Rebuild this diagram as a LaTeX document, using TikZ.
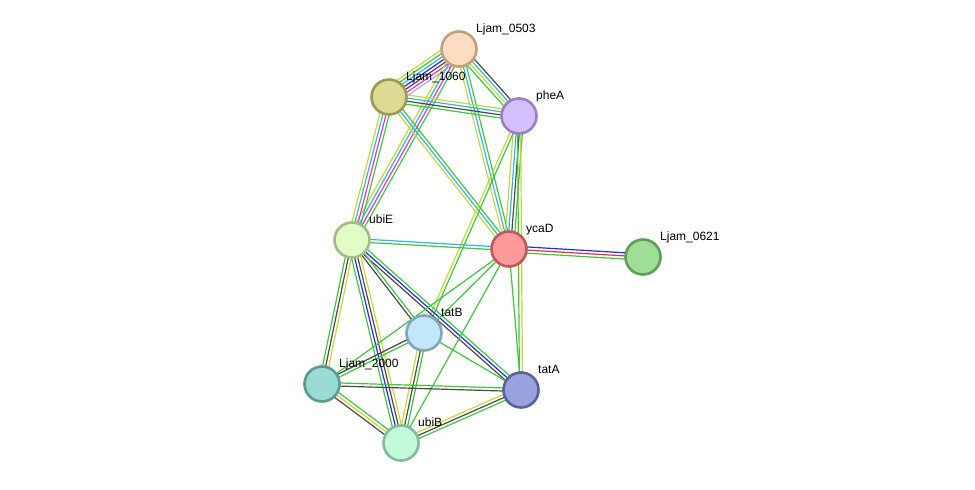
\documentclass[tikz,border=0pt]{standalone}
\usepackage{fontspec}
\setsansfont{Liberation Sans}
\usetikzlibrary{calc, backgrounds}
% colori degli archi
\definecolor{etm}{HTML}{C4D836}
\definecolor{edb}{HTML}{33B5E0}
\definecolor{eex}{HTML}{E033E0}
\definecolor{eco}{HTML}{4A4A4A}
\definecolor{enb}{HTML}{3CC83C}
\definecolor{efu}{HTML}{F03030}
\definecolor{ecc}{HTML}{2828F8}
\definecolor{ehm}{HTML}{A8A8F8}
% colori dei nodi
\definecolor{f0503}{HTML}{FDDCBF}\definecolor{d0503}{HTML}{C0A080}
\definecolor{f1060}{HTML}{DCDA94}\definecolor{d1060}{HTML}{9A9A52}
\definecolor{fpheA}{HTML}{D3C0FC}\definecolor{dpheA}{HTML}{9C80C6}
\definecolor{fubiE}{HTML}{E2FEC6}\definecolor{dubiE}{HTML}{A2BE86}
\definecolor{fycaD}{HTML}{FE9A9A}\definecolor{dycaD}{HTML}{BE5A5A}
\definecolor{f0621}{HTML}{9EDE96}\definecolor{d0621}{HTML}{5E9E56}
\definecolor{ftatB}{HTML}{C2E6FA}\definecolor{dtatB}{HTML}{82A6BA}
\definecolor{f2000}{HTML}{9ADCD4}\definecolor{d2000}{HTML}{5A9C94}
\definecolor{ftatA}{HTML}{9AA2DE}\definecolor{dtatA}{HTML}{5A629E}
\definecolor{fubiB}{HTML}{C2FCDA}\definecolor{dubiB}{HTML}{82BC9A}
\tikzset{
  % nodo proteina
  prot/.style={circle, minimum size=35pt, inner sep=0pt, line width=2.6pt},
  % etichetta del nodo
  lbl/.style={anchor=base west, inner sep=0pt, font=\sffamily\fontsize{12}{14}\selectfont},
  % singola linea di un arco
  edge/.style={line width=1.2pt},
}
% fascio di linee parallele tra due nodi
\newcommand{\bund}[3]{%
  \foreach \c [count=\k] in {#3} {\xdef\bundn{\k}}%
  \foreach \c [count=\k] in {#3} {%
    \pgfmathsetmacro\o{(\k-(\bundn+1)/2)*3.1}%
    \draw[edge, \c] ($(#1)!\o pt!90:(#2)$) -- ($(#2)!\o pt!-90:(#1)$);
  }}
\begin{document}
\begin{tikzpicture}[x=1pt, y=-1pt]
  \useasboundingbox (0,0) rectangle (975,490);
  \node[prot, fill=f0503, draw=d0503] (n0503) at (459,49) {};
  \node[prot, fill=f1060, draw=d1060] (n1060) at (389,97) {};
  \node[prot, fill=fpheA, draw=dpheA] (npheA) at (519,116) {};
  \node[prot, fill=fubiE, draw=dubiE] (nubiE) at (352,240) {};
  \node[prot, fill=fycaD, draw=dycaD] (nycaD) at (509,249) {};
  \node[prot, fill=f0621, draw=d0621] (n0621) at (643,257) {};
  \node[prot, fill=ftatB, draw=dtatB] (ntatB) at (424,333) {};
  \node[prot, fill=f2000, draw=d2000] (n2000) at (322,384) {};
  \node[prot, fill=ftatA, draw=dtatA] (ntatA) at (521,390) {};
  \node[prot, fill=fubiB, draw=dubiB] (nubiB) at (401,443) {};
  \foreach \n/\t in {n0503/Ljam\_0503, n1060/Ljam\_1060, npheA/pheA, nubiE/ubiE,
      nycaD/ycaD, n0621/Ljam\_0621, ntatB/tatB, n2000/Ljam\_2000, ntatA/tatA, nubiB/ubiB}
    \node[lbl] (l\n) at ([shift={(17,-16.5)}]\n) {\t};
  \begin{pgfonlayer}{background}
    \bund{n0503}{n1060}{etm, enb, edb, ecc, eco, eex, ehm}
    \bund{n0503}{npheA}{enb, etm, edb, eco}
    \bund{n0503}{nycaD}{etm, edb, enb}
    \bund{n0503}{nubiE}{etm, edb, eex, enb}
    \bund{n1060}{npheA}{enb, eco, edb, etm}
    \bund{n1060}{nubiE}{etm, edb, eex, enb}
    \bund{n1060}{nycaD}{etm, edb, enb}
    \bund{npheA}{nycaD}{etm, edb, eco, enb}
    \bund{npheA}{ntatB}{etm, enb}
    \bund{npheA}{ntatA}{enb, etm}
    \bund{nubiE}{nycaD}{enb, edb}
    \bund{nycaD}{n0621}{enb, efu, ecc}
    \bund{nubiE}{ntatA}{eco, ecc, enb}
    \bund{nubiE}{ntatB}{eco, enb}
    \bund{nubiE}{n2000}{enb, eco, etm}
    \bund{nubiE}{nubiB}{enb, ecc, eco, etm}
    \bund{nycaD}{ntatA}{enb}
    \bund{nycaD}{ntatB}{enb}
    \bund{nycaD}{n2000}{enb}
    \bund{nycaD}{nubiB}{enb}
    \bund{ntatB}{n2000}{eco, enb}
    \bund{ntatB}{ntatA}{enb}
    \bund{ntatB}{nubiB}{etm, eco, enb}
    \bund{n2000}{ntatA}{eco, enb}
    \bund{n2000}{nubiB}{eco, etm, enb}
    \bund{ntatA}{nubiB}{etm, eco, enb}
  \end{pgfonlayer}
\end{tikzpicture}
\end{document}
